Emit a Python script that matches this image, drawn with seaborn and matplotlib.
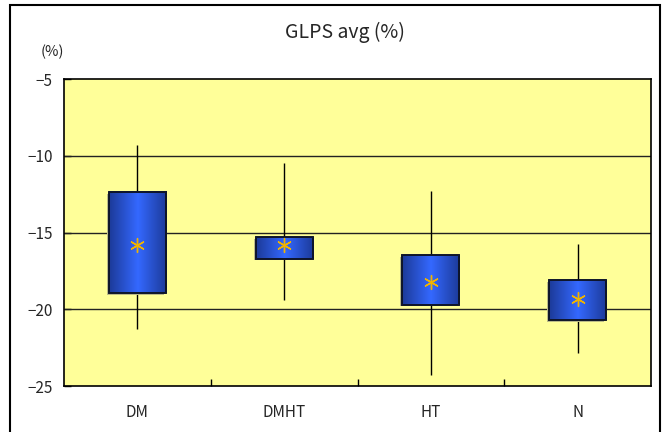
import numpy as np
import pandas as pd
import matplotlib
matplotlib.use("Agg")
import matplotlib.pyplot as plt
import seaborn as sns
from matplotlib.patches import Rectangle
from matplotlib.colors import LinearSegmentedColormap

categories = ["DM", "DMHT", "HT", "N"]
whisker_low = [-21.3, -19.4, -24.3, -22.85]
box_low = [-18.95, -16.7, -19.7, -20.7]
median_vals = [-15.8, -15.8, -18.2, -19.3]
box_high = [-12.35, -15.3, -16.45, -18.1]
whisker_high = [-9.3, -10.45, -12.3, -15.75]
means = [-15.8, -15.8, -18.2, -19.3]
yticks = [-5, -10, -15, -20, -25]

sns.set_theme(style="white")
plt.rcParams["font.family"] = ["Noto Sans CJK JP", "DejaVu Sans"]

rows = []
for i, c in enumerate(categories):
    for v in [whisker_low[i], box_low[i], median_vals[i], box_high[i], whisker_high[i]]:
        rows.append({"group": c, "value": v})
df = pd.DataFrame(rows)
mdf = pd.DataFrame({"group": categories, "value": means})

fig = plt.figure(figsize=(6.67, 4.32), dpi=100)
ax = fig.add_axes([64 / 667, 1 - 386 / 432, (651 - 64) / 667, (386 - 79) / 432])
ax.set_facecolor("#FFFF99")

ax.axhline(-10, color="#222222", lw=1, zorder=1)
ax.axhline(-15, color="#222222", lw=1, zorder=1)
ax.axhline(-20, color="#222222", lw=1, zorder=1)

sns.boxplot(data=df, x="group", y="value", order=categories, whis=np.inf,
            width=0.39, showcaps=False, ax=ax,
            boxprops=dict(facecolor="none", edgecolor="black", linewidth=1.2, zorder=4),
            whiskerprops=dict(color="black", linewidth=1, zorder=2),
            medianprops=dict(visible=False), linecolor="black")

# gradient fill for boxes
cmap = LinearSegmentedColormap.from_list("bg", ["#1c3a98", "#3468ff", "#1c3a98"])
grad = np.linspace(0, 1, 256).reshape(1, -1)
for i in range(len(categories)):
    x0, x1 = i - 0.195, i + 0.195
    sh = Rectangle((x0 - 0.012, box_low[i] - 0.12), x1 - x0, box_high[i] - box_low[i],
                   facecolor="#bbbb88", edgecolor="none", zorder=2.5)
    ax.add_patch(sh)
    ax.imshow(grad, cmap=cmap, aspect="auto", extent=(x0, x1, box_low[i], box_high[i]),
              zorder=3, interpolation="bilinear")
    ax.add_patch(Rectangle((x0, box_low[i]), x1 - x0, box_high[i] - box_low[i],
                           facecolor="none", edgecolor="#101830", linewidth=1.2, zorder=4))

sns.stripplot(data=mdf, x="group", y="value", order=categories, jitter=False,
              marker=(6, 2, 0), s=10, linewidth=1.0, color="#f0b400", edgecolor="#f0b400",
              ax=ax, zorder=5)

ax.set_xlim(-0.5, 3.5)
ax.set_ylim(-25, -5)
ax.set_yticks(yticks)
ax.set_yticklabels([f"\u2212{abs(t)}" for t in yticks], fontsize=11)
ax.set_xticks([0, 1, 2, 3])
ax.set_xticklabels(categories, fontsize=11)
ax.set_xticks([0.5, 1.5, 2.5], minor=True)
ax.tick_params(axis="x", which="major", length=0, pad=13)
ax.tick_params(axis="x", which="minor", direction="in", length=5, width=1, color="black", bottom=True)
ax.tick_params(axis="y", direction="in", length=5, width=1, color="black", left=True, pad=8)
ax.set_xlabel("")
ax.set_ylabel("")
for s in ax.spines.values():
    s.set_visible(True)
    s.set_color("black")
    s.set_linewidth(1.2)

fig.text(345 / 667, 1 - 32 / 432, "GLPS avg (%)", ha="center", va="center", fontsize=14)
fig.text(52 / 667, 1 - 52 / 432, "(%)", ha="center", va="center", fontsize=10.5)

fig.add_artist(Rectangle((10 / 667, -0.02), (660 - 10) / 667, 1 - 5 / 432 + 0.02,
                         transform=fig.transFigure, facecolor="none", edgecolor="black",
                         linewidth=1.5))

fig.savefig("out.png", dpi=100)
